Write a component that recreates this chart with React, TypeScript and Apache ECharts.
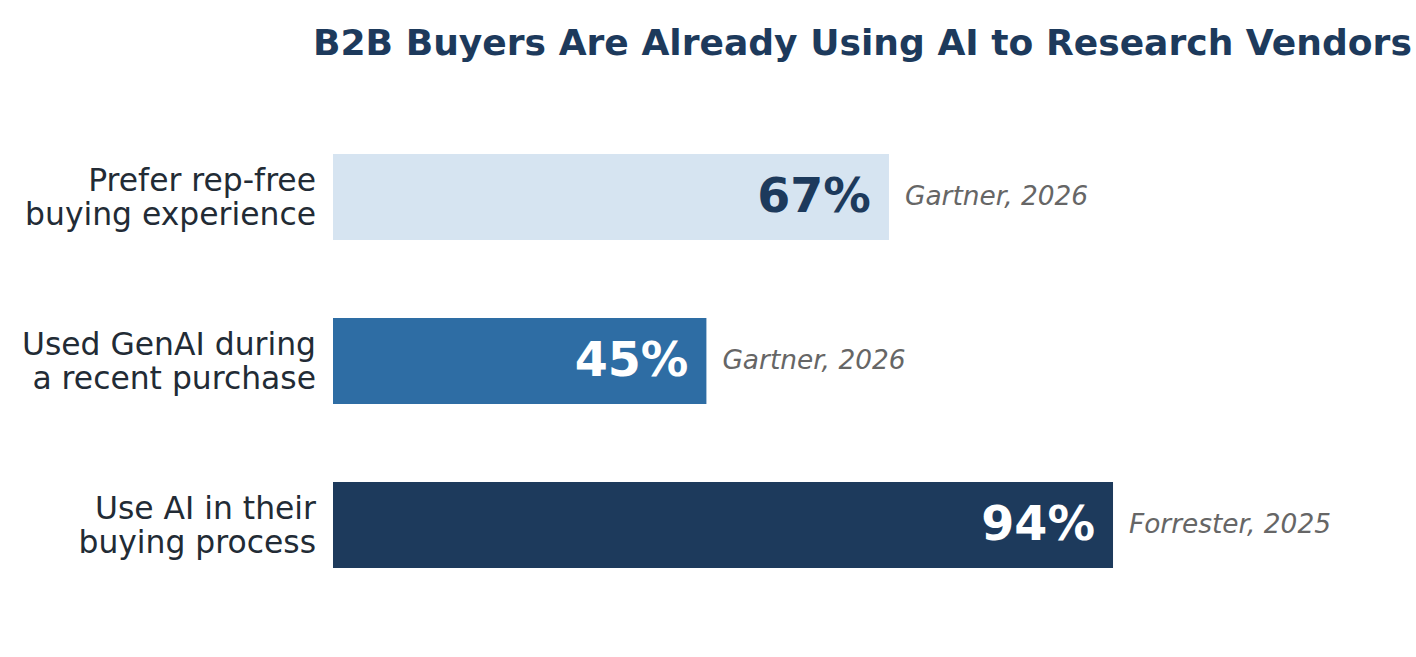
import React, { useEffect, useRef } from "react";
import * as echarts from "echarts";

const categories = [
  "Prefer rep-free\nbuying experience",
  "Used GenAI during\na recent purchase",
  "Use AI in their\nbuying process",
];
const values = [67, 45, 94];
const sources = ["Gartner, 2026", "Gartner, 2026", "Forrester, 2025"];
const barColors = ["#d6e4f1", "#2e6da4", "#1d3a5c"];
const valueLabelColors = ["#1d3a5c", "#ffffff", "#ffffff"];
const title = "B2B Buyers Are Already Using AI to Research Vendors";

const FONT = "DejaVu Sans";

export default function App() {
  const ref = useRef<HTMLDivElement>(null);
  useEffect(() => {
    if (!ref.current) return;
    const chart = echarts.init(ref.current, null, { renderer: "svg" });
    chart.setOption({
      animation: false,
      backgroundColor: "#ffffff",
      title: {
        text: title,
        left: 308,
        top: 20,
        textStyle: {
          fontFamily: FONT,
          fontSize: 36.1,
          fontWeight: "bold",
          color: "#1d3a5c",
        },
      },
      grid: { left: 333, width: 829.8, top: 115, bottom: 50, containLabel: false },
      xAxis: {
        type: "value",
        min: 0,
        max: 100,
        show: false,
      },
      yAxis: {
        type: "category",
        data: categories,
        inverse: true,
        axisLine: { show: false },
        axisTick: { show: false },
        splitLine: { show: false },
        axisLabel: {
          margin: 17,
          fontFamily: FONT,
          fontSize: 31.4,
          lineHeight: 34,
          padding: [0, 0, 4, 0],
          color: "#222b35",
          align: "right",
        },
      },
      series: [
        {
          type: "bar",
          barWidth: 86,
          data: values.map((v, i) => ({
            value: v,
            itemStyle: { color: barColors[i] },
            label: { color: valueLabelColors[i] },
          })),
          label: {
            show: true,
            position: "insideRight",
            distance: 18,
            offset: [0, -2],
            formatter: (p: any) => p.value + "%",
            fontFamily: FONT,
            fontSize: 47.5,
            fontWeight: "bold",
          },
          z: 2,
        },
        {
          type: "bar",
          barWidth: 86,
          barGap: "-100%",
          silent: true,
          data: values.map((v) => ({ value: v })),
          itemStyle: { color: "rgba(0,0,0,0)" },
          label: {
            show: true,
            position: "right",
            distance: 16,
            offset: [0, -2],
            formatter: (p: any) => sources[p.dataIndex],
            fontFamily: FONT,
            fontSize: 26.4,
            fontStyle: "italic",
            color: "#666666",
          },
          z: 1,
        },
      ],
    });
    return () => chart.dispose();
  }, []);
  return (
    <div
      ref={ref}
      style={{ position: "fixed", left: 0, top: 0, width: 1416, height: 657 }}
    />
  );
}
